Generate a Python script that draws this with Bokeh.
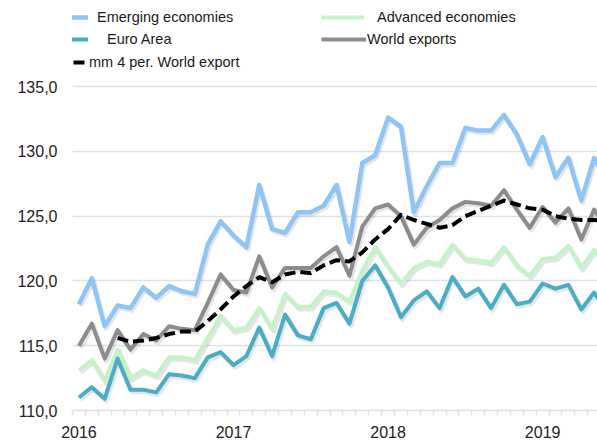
import math
from bokeh.plotting import figure
from bokeh.models import ColumnDataSource, Range1d, FixedTicker, Legend, LegendItem
from bokeh.transform import dodge
from bokeh.embed import file_html
from bokeh.resources import INLINE

# ---------------- data (monthly index, Jan 2016 = first) ----------------
months = [f"{y}-{m:02d}" for y in range(2016, 2020) for m in range(1, 13)][:42]

emerging = [118.2, 120.2, 116.5, 118.1, 117.9, 119.5, 118.7, 119.6, 119.2, 119.0,
            122.8, 124.6, 123.5, 122.6, 127.4, 124.0, 123.7, 125.3, 125.3, 125.8,
            127.4, 123.0, 129.1, 129.7, 132.6, 131.9, 125.3, 127.3, 129.1, 129.1,
            131.8, 131.6, 131.6, 132.8, 131.3, 129.0, 131.1, 128.0, 129.5, 126.2,
            129.5, 127.6]

advanced = [113.1, 113.9, 112.3, 114.7, 112.5, 113.1, 112.7, 114.1, 114.1, 113.9,
            115.6, 117.3, 116.2, 116.4, 117.9, 116.3, 119.0, 118.0, 118.0, 119.2,
            119.1, 118.4, 120.8, 122.6, 121.1, 119.8, 121.0, 121.5, 121.3, 122.8,
            121.7, 121.6, 121.4, 122.6, 121.2, 120.4, 121.7, 121.8, 122.7, 121.0,
            122.4, 120.9]

euro_area = [111.0, 111.8, 110.9, 114.0, 111.6, 111.6, 111.4, 112.8, 112.7, 112.5,
             114.1, 114.5, 113.5, 114.2, 116.4, 114.2, 117.4, 115.8, 115.5, 117.9,
             118.3, 116.7, 120.0, 121.2, 119.5, 117.2, 118.5, 119.2, 117.9, 120.3,
             118.8, 119.4, 117.9, 119.7, 118.2, 118.4, 119.8, 119.4, 119.7, 117.8,
             119.1, 117.6]

world_exports = [115.0, 116.7, 114.0, 116.2, 114.7, 115.9, 115.4, 116.5, 116.3, 116.2,
                 118.3, 120.5, 119.3, 119.1, 121.9, 119.5, 121.0, 121.0, 121.0, 121.9,
                 122.6, 120.4, 124.2, 125.6, 125.9, 125.0, 122.8, 124.1, 124.7, 125.6,
                 126.1, 126.0, 125.8, 127.0, 125.5, 124.1, 125.7, 124.5, 125.6, 123.2,
                 125.5, 124.0]

world_mm4 = [None, None, None, 115.6, 115.3, 115.4, 115.6, 115.9, 116.1, 116.1,
             116.9, 117.8, 118.8, 119.6, 120.3, 119.9, 120.5, 120.7, 120.6, 121.2,
             121.6, 121.5, 122.2, 123.2, 124.0, 125.1, 124.7, 124.4, 124.1, 124.3,
             125.0, 125.4, 125.8, 126.2, 125.9, 125.6, 125.5, 125.0, 124.8, 124.7,
             124.7, 124.6]

year_labels = ["2016", "2017", "2018", "2019"]
y_ticks = [110, 115, 120, 125, 130, 135]
y_tick_labels = ["110,0", "115,0", "120,0", "125,0", "130,0", "135,0"]

series_names = ["Emerging economies", "Advanced economies", "Euro Area",
                "World exports", "mm 4 per. World export"]

# ---------------- build ----------------
x = list(range(len(months)))
nan = float("nan")
src = ColumnDataSource(dict(
    x=x,
    emerging=emerging,
    advanced=advanced,
    euro=euro_area,
    world=world_exports,
    mm4=[nan if v is None else v for v in world_mm4],
))

FONT = "Liberation Sans"
GRID = "#dbe2ea"

p = figure(width=597, height=441, output_backend="svg", toolbar_location=None,
           x_range=Range1d(-0.5, 40.26), y_range=Range1d(110, 141.64),
           min_border_left=72, min_border_right=0, min_border_top=0,
           min_border_bottom=31)
p.outline_line_color = None
p.background_fill_color = "white"
p.border_fill_color = "white"

year_ticks = [months.index(f"{y}-01") for y in year_labels]
xt = FixedTicker(ticks=year_ticks, minor_ticks=[i - 0.5 for i in range(len(months) + 1)])
p.xaxis.ticker = xt
p.xaxis.major_label_overrides = {t: l for t, l in zip(year_ticks, year_labels)}
p.xaxis.axis_line_color = GRID
p.xaxis.axis_line_width = 1.5
p.xaxis.major_tick_line_color = None
p.xaxis.major_tick_out = 0
p.xaxis.major_tick_in = 0
p.xaxis.minor_tick_line_color = GRID
p.xaxis.minor_tick_line_width = 1.5
p.xaxis.minor_tick_out = 0
p.xaxis.minor_tick_in = -5
p.xaxis.major_label_standoff = 15
p.xaxis.major_label_text_font = FONT
p.xaxis.major_label_text_font_size = "16px"
p.xaxis.major_label_text_line_height = 0.9
p.xaxis.major_label_text_color = "#222222"

yt = FixedTicker(ticks=y_ticks)
p.yaxis.ticker = yt
p.yaxis.major_label_overrides = {t: l for t, l in zip(y_ticks, y_tick_labels)}
p.yaxis.axis_line_color = None
p.yaxis.major_tick_line_color = None
p.yaxis.major_tick_out = 0
p.yaxis.major_tick_in = 0
p.yaxis.minor_tick_line_color = None
p.yaxis.major_label_standoff = 15
p.yaxis.major_label_text_font = FONT
p.yaxis.major_label_text_font_size = "16px"
p.yaxis.major_label_text_color = "#222222"

p.xgrid.visible = False
p.ygrid.ticker = yt
p.ygrid.grid_line_color = GRID
p.ygrid.grid_line_width = 1.5

colors = {"emerging": "#8fc4f6", "advanced": "#c4f3c8", "euro": "#4bacc6",
          "world": "#8c8c8c", "mm4": "#000000"}
order = ["emerging", "advanced", "euro", "world", "mm4"]

# soft shadows (like the original's line shadow effect)
for key in order[:4]:
    p.line(x=dodge("x", 0.12, range=p.x_range), y=dodge(key, -0.16, range=p.y_range),
           source=src, line_color="#000000", line_alpha=0.10, line_width=5,
           line_join="round")

renderers = {}
for key in order:
    kw = dict(line_color=colors[key], line_width=4, line_join="round")
    if key == "mm4":
        kw["line_dash"] = "11 5"
    if key == "emerging":
        kw["line_width"] = 4.5
    renderers[key] = p.line(x="x", y=key, source=src, **kw)

# legend: (key, label, x, y, glyph width, standoff) -- screen px from frame bottom-left
legend_specs = [
    ("emerging", series_names[0], -31, 383, 47, 9),
    ("euro", series_names[2], -31, 361, 47, 19),
    ("mm4", series_names[4], -31, 338, 46, 2),
    ("advanced", series_names[1], 249, 383, 43, 13),
    ("world", series_names[3], 249, 361, 45, 1),
]
for key, label, lx, ly, gw, so in legend_specs:
    leg = Legend(items=[LegendItem(label=label, renderers=[renderers[key]])],
                 location=(lx, ly), border_line_color=None,
                 background_fill_alpha=0, padding=0, margin=0, spacing=0,
                 glyph_width=gw, glyph_height=20, label_height=20,
                 label_standoff=so, label_text_font=FONT,
                 label_text_font_size="14.5px", label_text_color="#1a1a1a")
    p.add_layout(leg)

open("out.html", "w").write(file_html(p, INLINE))
